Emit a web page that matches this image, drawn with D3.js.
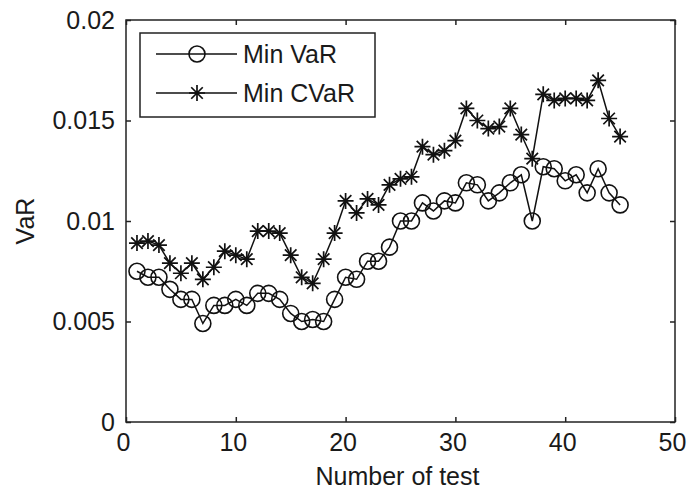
<!DOCTYPE html>
<html>
<head>
<meta charset="utf-8">
<script src="https://cdn.jsdelivr.net/npm/d3@7"></script>
<style>
  html, body { margin: 0; padding: 0; background: #fff; }
  svg { display: block; }
  text { font-family: "Liberation Sans", Arial, sans-serif; fill: #1a1a1a; }
</style>
</head>
<body>
<svg id="chart" width="687" height="491"></svg>
<script>
// ---- data ----
const tests = [1,2,3,4,5,6,7,8,9,10,11,12,13,14,15,16,17,18,19,20,21,22,23,24,25,26,27,28,29,30,31,32,33,34,35,36,37,38,39,40,41,42,43,44,45];
const minVaR = [0.0075,0.0072,0.0072,0.0066,0.0061,0.0061,0.0049,0.0058,0.0058,0.0061,0.0058,0.0064,0.0064,0.0061,0.0054,0.0050,0.0051,0.0050,0.0061,0.0072,0.0071,0.0080,0.0080,0.0087,0.0100,0.0100,0.0109,0.0105,0.0110,0.0109,0.0119,0.0118,0.0110,0.0114,0.0119,0.0123,0.0100,0.0127,0.0126,0.0120,0.0123,0.0114,0.0126,0.0114,0.0108];
const minCVaR = [0.0089,0.0090,0.0088,0.0079,0.0074,0.0079,0.0071,0.0077,0.0085,0.0083,0.0081,0.0095,0.0095,0.0094,0.0083,0.0072,0.0069,0.0081,0.0094,0.0110,0.0104,0.0111,0.0108,0.0118,0.0121,0.0122,0.0137,0.0133,0.0135,0.0140,0.0156,0.0150,0.0146,0.0147,0.0156,0.0143,0.0131,0.0163,0.0160,0.0161,0.0161,0.0160,0.0170,0.0151,0.0142];
const xTicks = [0,10,20,30,40,50];
const yTicks = [0,0.005,0.01,0.015,0.02];
const yTickLabels = ["0","0.005","0.01","0.015","0.02"];
const seriesNames = ["Min VaR","Min CVaR"];
const xLabel = "Number of test";
const yLabel = "VaR";

// ---- layout ----
const svg = d3.select("#chart");
const L = 126, R = 675, T = 20, B = 422;
const x = d3.scaleLinear().domain([0,50]).range([L,R]);
const y = d3.scaleLinear().domain([0,0.02]).range([B,T]);
const FS = 25;

svg.append("rect").attr("width",687).attr("height",491).attr("fill","#fff");

function styleAxis(g){
  g.select(".domain").remove();
  g.selectAll(".tick line").attr("stroke","#222").attr("stroke-width",1.5);
  g.selectAll("text").attr("font-size",FS).attr("font-family","Liberation Sans, Arial, sans-serif").attr("fill","#1a1a1a");
}

// bottom axis
svg.append("g").attr("transform",`translate(0,${B})`)
  .call(d3.axisBottom(x).tickValues(xTicks).tickFormat(d3.format("d")).tickSize(-5).tickPadding(11))
  .call(styleAxis)
  .call(g => g.selectAll("text").attr("dx",-3));
// top axis
svg.append("g").attr("transform",`translate(0,${T})`)
  .call(d3.axisTop(x).tickValues(xTicks).tickFormat("").tickSize(-5))
  .call(styleAxis);
// left axis
svg.append("g").attr("transform",`translate(${L},0)`)
  .call(d3.axisLeft(y).tickValues(yTicks).tickFormat((d,i)=>yTickLabels[i]).tickSize(-5).tickPadding(11))
  .call(styleAxis);
// right axis
svg.append("g").attr("transform",`translate(${R},0)`)
  .call(d3.axisRight(y).tickValues(yTicks).tickFormat("").tickSize(-5))
  .call(styleAxis);

// box
svg.append("rect").attr("x",L).attr("y",T).attr("width",R-L).attr("height",B-T)
  .attr("fill","none").attr("stroke","#222").attr("stroke-width",1.5);

// axis labels
svg.append("text").attr("x",(L+R)/2 - 3).attr("y",485).attr("text-anchor","middle")
  .attr("font-size",FS).text(xLabel);
svg.append("text").attr("transform",`translate(34,${(T+B)/2}) rotate(-90)`).attr("text-anchor","middle")
  .attr("font-size",FS).text(yLabel);

// markers
const starPath = (s) => {
  const k = s*0.72;
  return `M${-s},0H${s}M0,${-s}V${s}M${-k},${-k}L${k},${k}M${-k},${k}L${k},${-k}`;
};
function drawCircle(g, cx, cy){
  g.append("circle").attr("cx",cx).attr("cy",cy).attr("r",8)
    .attr("fill","none").attr("stroke","#111").attr("stroke-width",1.6);
}
function drawStar(g, cx, cy){
  g.append("path").attr("d",starPath(8)).attr("transform",`translate(${cx},${cy})`)
    .attr("fill","none").attr("stroke","#111").attr("stroke-width",1.7);
}

const line = d3.line().x(d=>x(d[0])).y(d=>y(d[1]));
const s1 = tests.map((t,i)=>[t,minVaR[i]]);
const s2 = tests.map((t,i)=>[t,minCVaR[i]]);

const plot = svg.append("g");
plot.append("path").attr("d",line(s1)).attr("fill","none").attr("stroke","#111").attr("stroke-width",1.5);
plot.append("path").attr("d",line(s2)).attr("fill","none").attr("stroke","#111").attr("stroke-width",1.5);
s1.forEach(d=>drawCircle(plot,x(d[0]),y(d[1])));
s2.forEach(d=>drawStar(plot,x(d[0]),y(d[1])));

// legend
const lg = svg.append("g");
lg.append("rect").attr("x",140).attr("y",33).attr("width",235).attr("height",84)
  .attr("fill","#fff").attr("stroke","#222").attr("stroke-width",1.5);
const rows = [54,93];
rows.forEach((ry,i)=>{
  lg.append("line").attr("x1",156).attr("x2",237).attr("y1",ry).attr("y2",ry)
    .attr("stroke","#111").attr("stroke-width",1.5);
  if(i===0) drawCircle(lg,197,ry); else drawStar(lg,197,ry);
  lg.append("text").attr("x",243).attr("y",ry).attr("dy","0.36em")
    .attr("font-size",FS).text(seriesNames[i]);
});
</script>
</body>
</html>
